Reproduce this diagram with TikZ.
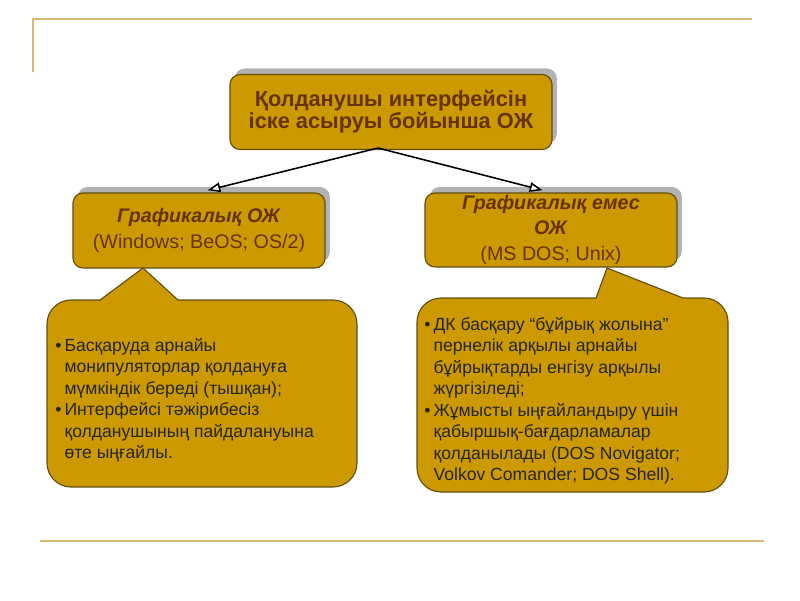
\documentclass[tikz,border=0pt]{standalone}
\usepackage{fontspec}
\setmainfont{Liberation Sans}
\usepackage{tikz}
\usepackage{xcolor}
\usetikzlibrary{arrows.meta,shadows}
\definecolor{boxfill}{RGB}{204,153,0}
\definecolor{boxtext}{RGB}{102,51,0}
\definecolor{boxline}{RGB}{100,78,20}
\definecolor{rule}{RGB}{214,186,112}
\definecolor{shade}{RGB}{178,178,178}
\newcommand{\bul}{\makebox[1.0ex][l]{•}}
\newcommand{\ind}{\hspace*{1.0ex}}

\tikzset{
    osbox/.style={draw=boxline, fill=boxfill, rounded corners=2.5mm, thick,
        text=boxtext, align=center, inner sep=0pt,
        drop shadow={shadow xshift=1.2mm, shadow yshift=1.5mm, fill=shade, opacity=1}},
    bubble/.style={draw=boxline, fill=boxfill, thick},
    note/.style={anchor=north west, align=left, inner sep=0pt, text=black!85,
        font=\fontsize{12.5}{15.3}\selectfont},
    link/.style={-{Triangle[fill=white, length=3.2mm, width=2.4mm]}, line width=1.1pt}
}

\begin{document}
\begin{tikzpicture}[x=0.025cm, y=-0.025cm]
    \useasboundingbox (0,0) rectangle (800,600);

    % Slide rules
    \draw[rule, line width=1.5pt] (33,72) -- (33,19) -- (752,19);
    \draw[rule, line width=2pt] (40,541) -- (764,541);

    % Speech bubbles under the two boxes
    \draw[bubble] (100,300) -- (143,268) -- (178,300) -- (333,300)
        arc (270:360:24) -- (357,463) arc (0:90:24) -- (71,487)
        arc (90:180:24) -- (47,324) arc (180:270:24) -- cycle;
    \draw[bubble] (596,298) -- (607,268) -- (683,298) -- (704,298)
        arc (270:360:24) -- (728,468) arc (0:90:24) -- (441,492)
        arc (90:180:24) -- (417,322) arc (180:270:24) -- cycle;

    % Boxes
    \node[osbox, minimum width=8.05cm, minimum height=1.875cm,
        font=\fontsize{15.5}{15.6}\selectfont\bfseries] (top) at (391,112)
        {Қолданушы интерфейсін\\іске асыруы бойынша ОЖ};
    \node[osbox, minimum width=6.3cm, minimum height=1.875cm,
        font=\fontsize{14}{18.5}\selectfont] (gui) at (199,230.5)
        {\textbf{\textit{Графикалық ОЖ}}\\(Windows; BeOS; OS/2)};
    \node[osbox, minimum width=6.3cm, minimum height=1.85cm,
        font=\fontsize{14}{18}\selectfont] (cli) at (551,230)
        {\textbf{\textit{Графикалық емес}}\\\textbf{\textit{ОЖ}}\\[0.5pt](MS DOS; Unix)};

    % Arrows
    \coordinate (fork) at (378,148);
    \draw[link, shorten >=2.2mm] (fork) -- (gui.north);
    \draw[link, shorten >=2.2mm] (fork) -- (cli.north);

    % Bubble texts
    \node[note] (guinote) at (55,338)
        {\bul Басқаруда арнайы\\
         \ind монипуляторлар қолдануға\\
         \ind мүмкіндік береді (тышқан);\\
         \bul Интерфейсі тәжірибесіз\\
         \ind қолданушының пайдалануына\\
         \ind өте ыңғайлы.};
    \node[note] (clinote) at (424,317)
        {\bul ДК басқару “бұйрық жолына”\\
         \ind пернелік арқылы арнайы\\
         \ind бұйрықтарды енгізу арқылы\\
         \ind жүргізіледі;\\
         \bul Жұмысты ыңғайландыру үшін\\
         \ind қабыршық-бағдарламалар\\
         \ind қолданылады (DOS Novigator;\\
         \ind Volkov Comander; DOS Shell).};
\end{tikzpicture}
\end{document}
